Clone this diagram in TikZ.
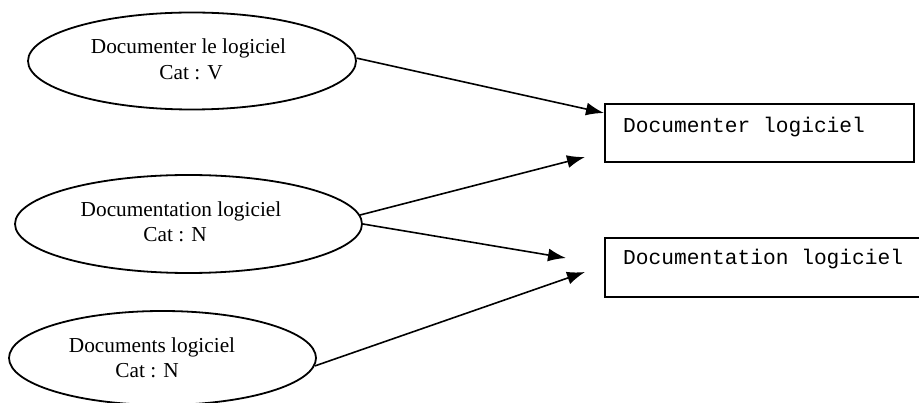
\documentclass[tikz,border=0pt]{standalone}
\usepackage{fontspec}
\setmainfont{Liberation Serif}
\newfontfamily\monofont{Liberation Mono}
\usetikzlibrary{shapes.geometric,arrows.meta}
\begin{document}
\begin{tikzpicture}[x=1pt,y=-1pt,
  ell/.style={draw,ellipse,line width=1.8pt,inner sep=0pt},
  box/.style={draw,rectangle,line width=1.8pt,inner sep=0pt,anchor=north west},
  serif/.style={anchor=base,inner sep=0pt,font=\fontsize{21.3}{26}\selectfont},
  mono/.style={anchor=base west,inner sep=0pt,font=\monofont\fontsize{21.2}{26}\selectfont},
  arr/.style={line width=1.6pt,-{Latex[length=18pt,width=13pt]}}]
\useasboundingbox (0,0) rectangle (919,403);
\clip (0,0) rectangle (919,403);
% ellipses
\node[ell,minimum width=328pt,minimum height=97pt] (e1) at (192,61) {};
\node[ell,minimum width=347pt,minimum height=98pt] (e2) at (188.5,224) {};
\node[ell,minimum width=307pt,minimum height=94pt] (e3) at (162.5,358) {};
\node[serif] (e1a) at (188.5,54) {Documenter le logiciel};
\node[serif] (e1b) at (191,80) {Cat : V};
\node[serif] (e2a) at (181,217) {Documentation logiciel};
\node[serif] (e2b) at (175,242) {Cat : N};
\node[serif] (e3a) at (152,353) {Documents logiciel};
\node[serif] (e3b) at (147,378) {Cat : N};
% boxes
\node[box,minimum width=309pt,minimum height=58pt] (b1) at (604,103) {};
\node[box,minimum width=340pt,minimum height=59pt] (b2) at (604,237) {};
\node[mono] (b1t) at (623,133) {Documenter logiciel};
\node[mono] (b2t) at (623,265) {Documentation logiciel};
% free arrow ends
\coordinate (t2) at (585,157);
\coordinate (t3) at (566,258);
\coordinate (t4) at (585,272);
% arrows
\draw[arr] (e1.1.5) -- (b1.west |- 0,113);
\draw[arr] (e2.3.7) -- (t2);
\draw[arr] (e2.0.7) -- (t3);
\draw[arr] (e3.-3.4) -- (t4);
\end{tikzpicture}
\end{document}
